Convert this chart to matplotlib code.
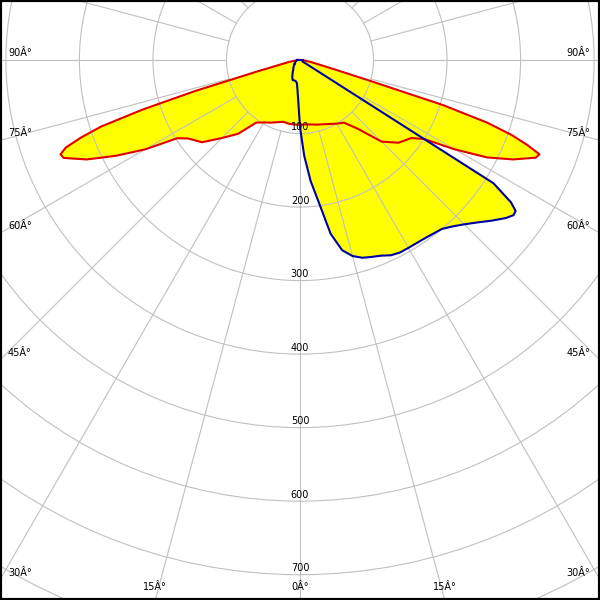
import numpy as np
import matplotlib.pyplot as plt
from matplotlib.patches import Rectangle

# C0 / C180 plane (red) - gamma angles in degrees, intensities
gamma_red = [0, 5, 10, 15, 20, 25, 30, 35, 40, 45, 50, 55, 57.5, 60, 62.5, 65,
             67.5, 68.5, 69.5, 70.5, 71.5, 72.5, 73.5, 75, 80, 85, 90]
c0 = [88, 88, 89, 91, 93, 96, 100, 104, 122, 157, 175, 185, 200, 243, 287, 320,
      347, 350, 330, 305, 268, 204, 95, 45, 14, 5, 2]
c180 = [88, 88, 88, 87, 90, 94, 98, 104, 131, 150, 174, 186, 198, 243, 282, 320,
        348, 350, 340, 316, 285, 225, 150, 60, 15, 5, 2]

# C90 / C270 plane (blue)
gamma_blue = [0, 2.5, 5, 7.5, 10, 12.5, 15, 17.5, 20, 22.5, 25, 27.5, 30, 35, 40,
              42.5, 45, 47.5, 50, 52.5, 54, 55, 56, 57.5, 60, 70, 80, 90]
c90 = [91, 130, 165, 195, 240, 265, 276, 282, 285, 288, 293, 295, 295, 296, 300,
       307, 316, 327, 340, 353, 359, 358, 346, 312, 4, 4, 4, 4]
c270 = [91, 55, 40, 32, 30, 29, 29, 29, 29, 27, 25, 22, 20, 16, 14,
        13, 12, 11, 10, 10, 9, 9, 9, 8, 8, 6, 5, 4]

ring_values = [100, 200, 300, 400, 500, 600, 700]
side_labels = [90, 75, 60, 45, 30]
bottom_labels = [15, 0]

R_MAX = 850
W, H = 600, 600
CX, CY = 300, 60          # pole position in pixels (from top-left)
RAD_PX = 625              # pixels for R_MAX
GRID = '#c0c0c0'


def plane(gamma, right, left):
    g = np.radians(np.asarray(gamma, dtype=float))
    theta = np.concatenate([-g[::-1], g[1:]])
    r = np.concatenate([np.asarray(left, float)[::-1], np.asarray(right, float)[1:]])
    return theta, r


fig = plt.figure(figsize=(6, 6), dpi=100)
ax = fig.add_axes([(CX - RAD_PX) / W, (H - CY - RAD_PX) / H,
                   2 * RAD_PX / W, 2 * RAD_PX / H], projection='polar')
ax.set_theta_zero_location('S')
ax.set_xticks([])
ax.set_yticks(range(100, 900, 100))
ax.set_yticklabels([])
ax.set_ylim(0, R_MAX)
ax.yaxis.grid(True, color=GRID, linewidth=0.8)
ax.spines['polar'].set_visible(False)

# radial lines every 15 degrees, starting at the first ring
for deg in range(0, 360, 15):
    t = np.radians(deg)
    ax.plot([t, t], [100, R_MAX], color=GRID, linewidth=0.8, zorder=1.5)

th_r, r_r = plane(gamma_red, c0, c180)
th_b, r_b = plane(gamma_blue, c90, c270)

ax.fill(th_r, r_r, color='#ffff00', zorder=1)
ax.fill(th_b, r_b, color='#ffff00', zorder=1)
ax.plot(np.append(th_r, th_r[0]), np.append(r_r, r_r[0]), color='#e00000', linewidth=1.5, zorder=2)
ax.plot(np.append(th_b, th_b[0]), np.append(r_b, r_b[0]), color='#0000a8', linewidth=1.5, zorder=2.1)
ax.set_ylim(0, R_MAX)

for v in ring_values:
    ax.annotate(str(v), xy=(0, v), xytext=(0, 1), textcoords='offset points',
                ha='center', va='bottom', fontsize=7, zorder=5)

deg_sign = '\u00c2\u00b0'
for a in side_labels:
    g = np.radians(a)
    y_edge = CY + CX * np.cos(g) / np.sin(g)
    fy = 1 - (y_edge - 7) / H
    fig.text(8 / W, fy, f'{a}{deg_sign}', ha='left', va='center', fontsize=7)
    fig.text(1 - 10 / W, fy, f'{a}{deg_sign}', ha='right', va='center', fontsize=7)

for a in bottom_labels:
    g = np.radians(a)
    dx = (H - CY) * np.tan(g)
    for sgn in ([-1, 1] if a else [1]):
        fig.text((CX + sgn * dx) / W, 13 / H, f'{a}{deg_sign}',
                 ha='center', va='center', fontsize=7)

fig.add_artist(Rectangle((0, 0), 1, 1, transform=fig.transFigure, fill=False,
                         edgecolor='black', linewidth=3, zorder=10))

fig.savefig('out.png', dpi=100)
